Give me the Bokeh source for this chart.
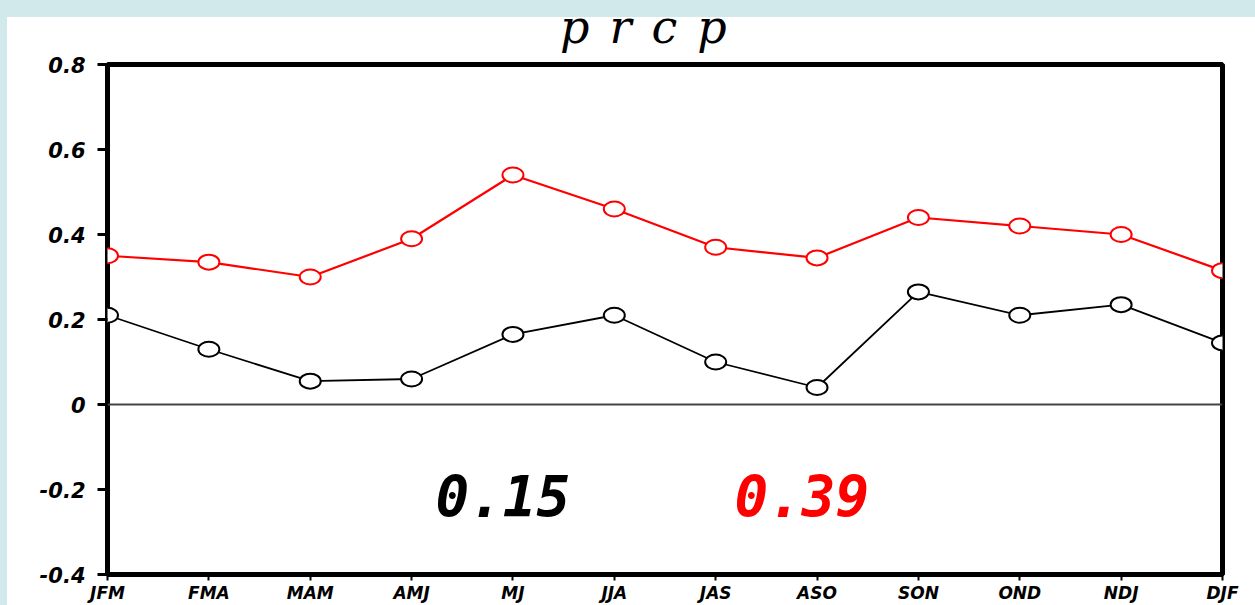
from bokeh.plotting import figure
from bokeh.models import Range1d, FixedTicker, Span, Label, Div, GlobalInlineStyleSheet
from bokeh.layouts import column
from bokeh.embed import file_html
from bokeh.resources import INLINE

# ---- data ----
seasons = ["JFM", "FMA", "MAM", "AMJ", "MJ", "JJA", "JAS", "ASO", "SON", "OND", "NDJ", "DJF"]
red_vals = [0.35, 0.335, 0.30, 0.39, 0.54, 0.46, 0.37, 0.345, 0.44, 0.42, 0.40, 0.315]
black_vals = [0.21, 0.13, 0.055, 0.06, 0.165, 0.21, 0.10, 0.04, 0.265, 0.21, 0.235, 0.145]
ytick_vals = [-0.4, -0.2, 0, 0.2, 0.4, 0.6, 0.8]
ytick_labels = ["-0.4", "-0.2", "0", "0.2", "0.4", "0.6", "0.8"]
title_text = "prcp"
stat_texts = ["0.15", "0.39"]
stat_colors = ["black", "red"]
stat_x = [3.9, 6.85]
stat_y = -0.216

xs = list(range(len(seasons)))

p = figure(width=1248, height=568,
           x_range=Range1d(0, len(seasons) - 1), y_range=Range1d(-0.4, 0.8),
           output_backend="svg", toolbar_location=None,
           min_border_left=100, min_border_right=33,
           min_border_top=27, min_border_bottom=29)
p.grid.visible = False
p.background_fill_color = "white"
p.border_fill_color = None
p.outline_line_color = "black"
p.outline_line_width = 5

xa = p.xaxis[0]
xa.ticker = FixedTicker(ticks=xs)
xa.major_label_overrides = {i: s for i, s in zip(xs, seasons)}
xa.axis_line_color = None
xa.major_tick_out = 6
xa.major_tick_in = 0
xa.major_tick_line_width = 2
xa.major_tick_line_color = "black"
xa.minor_tick_line_color = None
xa.major_label_standoff = 2
xa.major_label_text_font = "DejaVu Sans"
xa.major_label_text_font_style = "bold italic"
xa.major_label_text_font_size = "17px"
xa.major_label_text_color = "black"

ya = p.yaxis[0]
ya.ticker = FixedTicker(ticks=ytick_vals)
ya.major_label_overrides = {v: s for v, s in zip(ytick_vals, ytick_labels)}
ya.axis_line_color = None
ya.major_tick_out = 10
ya.major_tick_in = 0
ya.major_tick_line_width = 3
ya.major_tick_line_color = "black"
ya.minor_tick_line_color = None
ya.major_label_standoff = 12
ya.major_label_text_font = "DejaVu Sans"
ya.major_label_text_font_style = "bold italic"
ya.major_label_text_font_size = "21px"
ya.major_label_text_color = "black"

p.add_layout(Span(location=0, dimension="width", line_color="#444444", line_width=2))

p.line(xs, red_vals, line_color="red", line_width=2.2)
p.ellipse(x=xs, y=red_vals, width=21, height=15, width_units="screen", height_units="screen",
          fill_color="white", line_color="red", line_width=2)
p.line(xs, black_vals, line_color="black", line_width=1.8)
p.ellipse(x=xs, y=black_vals, width=21, height=15, width_units="screen", height_units="screen",
          fill_color="white", line_color="black", line_width=2)

for t, c, x in zip(stat_texts, stat_colors, stat_x):
    p.add_layout(Label(x=x, y=stat_y, text=t, text_font="DejaVu Sans Mono",
                       text_font_style="bold italic", text_font_size="56px",
                       text_align="center", text_baseline="middle", text_color=c))

title_div = Div(
    text=('<div style="width:1248px;text-align:left;padding-left:553px;'
          'font-family:\'DejaVu Serif\';font-style:italic;font-size:46px;'
          'letter-spacing:20px;line-height:20px;color:black;white-space:nowrap;">'
          + title_text + '</div>'),
    width=1248, height=20, margin=0,
    styles={"overflow": "visible"})

layout = column(title_div, p,
                styles={"background-color": "white"},
                stylesheets=[GlobalInlineStyleSheet(
                    css="html, body { margin: 0; padding: 0; overflow: hidden; background-color: #d2e9eb; } "
                        "body { padding-left: 7px; padding-top: 17px; }")])

open("out.html", "w").write(file_html(layout, INLINE))
